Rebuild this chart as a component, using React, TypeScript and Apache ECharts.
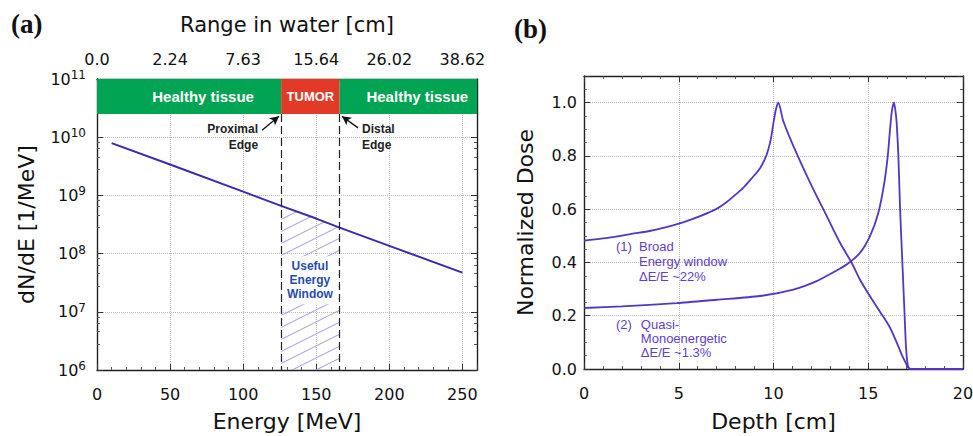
import React, { useEffect, useRef } from 'react';
import * as echarts from 'echarts';

// ---- Panel (a): proton spectrum ----
const energyMeV = [10, 50, 100, 126, 150, 166, 200, 250];
const dNdE = [7.9e9, 3.4e9, 1.16e9, 6.6e8, 4.0e8, 2.8e8, 1.36e8, 4.7e7];
const energyTicks = [0, 50, 100, 150, 200, 250];
const rangeLabels = ['0.0', '2.24', '7.63', '15.64', '26.02', '38.62'];
const tumorStart = 126;
const tumorEnd = 166;
const bandBottom = 2.5e10;

// ---- Panel (b): depth dose curves ----
const depthBroad = [0, 1, 1.76, 2.5, 3.52, 4.3, 5.05, 5.6, 6.16, 6.6, 7.04, 7.5, 7.92, 8.4, 8.8, 9.3, 9.64, 9.85, 10.0, 10.13, 10.25, 10.52, 11.05, 11.93, 12.81, 13.51, 14.13, 14.56, 15.09, 15.62, 16.15, 16.5, 16.76, 17.0, 17.1, 17.25, 18, 19, 20];
const doseBroad = [0.482, 0.49, 0.498, 0.507, 0.519, 0.532, 0.547, 0.56, 0.575, 0.588, 0.603, 0.625, 0.65, 0.68, 0.712, 0.755, 0.805, 0.86, 0.925, 0.975, 1.0, 0.93, 0.837, 0.70, 0.574, 0.474, 0.398, 0.336, 0.273, 0.215, 0.155, 0.10, 0.055, 0.02, 0.006, 0, 0, 0, 0];
const depthMono = [0, 2, 4.89, 7, 9.29, 11.05, 12.28, 13.16, 13.86, 14.56, 15.09, 15.53, 15.85, 16.03, 16.15, 16.25, 16.36, 16.45, 16.5, 16.59, 16.68, 16.8, 16.92, 17.0, 17.1, 17.23, 18, 20];
const doseMono = [0.229, 0.235, 0.2475, 0.26, 0.274, 0.298, 0.33, 0.363, 0.392, 0.436, 0.499, 0.586, 0.70, 0.80, 0.90, 0.97, 1.0, 0.96, 0.924, 0.8, 0.6, 0.4, 0.2, 0.073, 0.01, 0, 0, 0];

const AX_FONT = 'DejaVu Sans';
const ARIAL = 'Liberation Sans';
const LEFT_LINE = '#3a2aae';
const RIGHT_LINE = '#5536c2';
const NOTE = '#5f40c8';

function makeHatch(): HTMLCanvasElement {
  const c = document.createElement('canvas');
  c.width = 24;
  c.height = 12;
  const ctx = c.getContext('2d')!;
  ctx.strokeStyle = '#a494e4';
  ctx.lineWidth = 1;
  for (const k of [-1, 0, 1]) {
    ctx.beginPath();
    ctx.moveTo(-2, 12 + 1 + k * 12);
    ctx.lineTo(26, 12 - 13 + k * 12);
    ctx.stroke();
  }
  return c;
}

export default function App() {
  const ref = useRef<HTMLDivElement>(null);
  useEffect(() => {
    if (!ref.current) return;
    const chart = echarts.init(ref.current, null, { renderer: 'svg' });
    const spectrum = energyMeV.map((e, i) => [e, dNdE[i]]);
    const hatchData = spectrum.filter((p) => p[0] >= tumorStart && p[0] <= tumorEnd);
    const broad = depthBroad.map((d, i) => [d, doseBroad[i]]);
    const mono = depthMono.map((d, i) => [d, doseMono[i]]);

    const frameLine = { show: true, onZero: false, lineStyle: { color: '#222', width: 1.4 } };
    const split = { show: true, lineStyle: { color: '#b8b8b8', type: 'dotted' as const, width: 1 } };
    const tick = { show: true, inside: true, length: 6, lineStyle: { color: '#333' } };
    const minor = { show: true, length: 3, lineStyle: { color: '#555' } };
    const tickLabel = { fontFamily: AX_FONT, fontSize: 16, color: '#111' };
    const nameStyle = { fontFamily: AX_FONT, fontSize: 22, color: '#111' };

    const option: any = {
      animation: false,
      backgroundColor: '#fff',
      graphic: [
        { type: 'text', left: 11, top: 10, style: { text: '(a)', font: 'bold 27px "Liberation Serif"', fill: '#111' } },
        { type: 'text', left: 514, top: 15, style: { text: '(b)', font: 'bold 27px "Liberation Serif"', fill: '#111' } },
      ],
      grid: [
        { left: 97, top: 79, width: 380, height: 291, containLabel: false, outerBoundsMode: 'none' },
        { left: 584, top: 76, width: 379, height: 293, containLabel: false, outerBoundsMode: 'none' },
      ],
      xAxis: [
        {
          gridIndex: 0, type: 'value', position: 'bottom', min: 0, max: 260, interval: 50,
          axisLine: frameLine, axisTick: tick, minorTick: { ...minor, splitNumber: 5 },
          splitLine: split,
          axisLabel: { ...tickLabel, margin: 16, showMaxLabel: false },
          name: 'Energy [MeV]', nameLocation: 'middle', nameGap: 40, nameTextStyle: nameStyle,
        },
        {
          gridIndex: 0, type: 'value', position: 'top', min: 0, max: 260, interval: 50,
          axisLine: frameLine, axisTick: tick, minorTick: { ...minor, splitNumber: 5 },
          splitLine: { show: false },
          axisLabel: {
            ...tickLabel, margin: 12, showMaxLabel: false,
            formatter: (v: number) => {
              const i = energyTicks.indexOf(v);
              return i >= 0 ? rangeLabels[i] : '';
            },
          },
          name: 'Range in water [cm]', nameLocation: 'middle', nameGap: 44,
          nameTextStyle: { ...nameStyle, fontSize: 21 },
        },
        {
          gridIndex: 1, type: 'value', position: 'bottom', min: 0, max: 20, interval: 5,
          axisLine: frameLine, axisTick: tick, minorTick: { ...minor, splitNumber: 5 },
          splitLine: split,
          axisLabel: { ...tickLabel, margin: 16 },
          name: 'Depth [cm]', nameLocation: 'middle', nameGap: 41, nameTextStyle: nameStyle,
        },
        {
          gridIndex: 1, type: 'value', position: 'top', min: 0, max: 20, interval: 5,
          axisLine: frameLine, axisTick: tick, minorTick: { ...minor, splitNumber: 5 },
          splitLine: { show: false }, axisLabel: { show: false },
        },
      ],
      yAxis: [
        {
          gridIndex: 0, type: 'log', logBase: 10, min: 1e6, max: 1e11, position: 'left',
          axisLine: frameLine, axisTick: tick, minorTick: { ...minor, splitNumber: 5 },
          splitLine: split,
          axisLabel: {
            margin: 11,
            formatter: (v: number) => '{b|10}{s|' + Math.round(Math.log10(v)) + '}',
            rich: {
              b: { fontFamily: AX_FONT, fontSize: 16, color: '#111', lineHeight: 20 },
              s: { fontFamily: AX_FONT, fontSize: 12, color: '#111', lineHeight: 12, verticalAlign: 'top' },
            },
          },
          name: 'dN/dE [1/MeV]', nameLocation: 'middle', nameGap: 60, nameTextStyle: nameStyle,
        },
        {
          gridIndex: 0, type: 'log', logBase: 10, min: 1e6, max: 1e11, position: 'right',
          axisLine: frameLine, axisTick: tick, minorTick: { ...minor, splitNumber: 5 },
          splitLine: { show: false }, axisLabel: { show: false },
        },
        {
          gridIndex: 1, type: 'value', min: 0, max: 1.1, interval: 0.2, position: 'left',
          axisLine: frameLine, axisTick: tick, minorTick: { ...minor, splitNumber: 4 },
          splitLine: split,
          axisLabel: { ...tickLabel, margin: 7, showMaxLabel: false, formatter: (v: number) => v.toFixed(1) },
          name: 'Normalized Dose', nameLocation: 'middle', nameGap: 48, nameTextStyle: nameStyle,
        },
        {
          gridIndex: 1, type: 'value', min: 0, max: 1.1, interval: 0.2, position: 'right',
          axisLine: frameLine, axisTick: tick, minorTick: { ...minor, splitNumber: 4 },
          splitLine: { show: false }, axisLabel: { show: false },
        },
      ],
      series: [
        {
          type: 'line', xAxisIndex: 0, yAxisIndex: 0, data: hatchData, symbol: 'none',
          lineStyle: { width: 0 },
          areaStyle: { origin: 'start', color: { image: makeHatch(), repeat: 'repeat', imageWidth: 24, imageHeight: 12 }, opacity: 1 },
          markPoint: {
            symbol: 'circle', symbolSize: 0, silent: true,
            data: [
              {
                coord: [145.7, 3.5e7],
                label: {
                  show: true, position: 'inside', formatter: 'Useful\nEnergy\nWindow',
                  fontFamily: ARIAL, fontWeight: 'bold', fontSize: 12, lineHeight: 14,
                  color: '#1f4db3', backgroundColor: '#fff', padding: [3, 5], align: 'center',
                },
              },
            ],
          },
          z: 2,
        },
        {
          type: 'line', xAxisIndex: 0, yAxisIndex: 0, data: spectrum, symbol: 'none',
          lineStyle: { color: LEFT_LINE, width: 2 }, itemStyle: { color: LEFT_LINE },
          z: 4,
          markArea: {
            silent: true,
            label: { show: true, position: 'inside', color: '#fff', fontFamily: ARIAL, fontWeight: 'bold', fontSize: 15 },
            data: [
              [
                { xAxis: 0, yAxis: bandBottom, itemStyle: { color: '#00a452' }, label: { formatter: 'Healthy tissue', offset: [14, 0] } },
                { xAxis: tumorStart, yAxis: 1e11 },
              ],
              [
                { xAxis: tumorStart, yAxis: bandBottom, itemStyle: { color: '#e23a26' }, label: { formatter: 'TUMOR', fontSize: 13 } },
                { xAxis: tumorEnd, yAxis: 1e11 },
              ],
              [
                { xAxis: tumorEnd, yAxis: bandBottom, itemStyle: { color: '#00a452' }, label: { formatter: 'Healthy tissue', offset: [9, 0] } },
                { xAxis: 260, yAxis: 1e11 },
              ],
            ],
          },
          markLine: {
            silent: true, symbol: ['none', 'none'], label: { show: false },
            lineStyle: { color: '#222', type: [8, 4], width: 1.2 },
            z: 6,
            data: [
              [{ coord: [tumorStart, bandBottom] }, { coord: [tumorStart, 1e6] }],
              [{ coord: [tumorEnd, bandBottom] }, { coord: [tumorEnd, 1e6] }],
              [
                { coord: [112.9, 1.32e10], symbol: 'none', lineStyle: { type: 'solid', width: 1.4, color: '#111' } },
                { coord: [124.5, 2.29e10], symbol: 'arrow', symbolSize: [7, 9] },
              ],
              [
                { coord: [178.6, 1.45e10], symbol: 'none', lineStyle: { type: 'solid', width: 1.4, color: '#111' } },
                { coord: [167.6, 2.29e10], symbol: 'arrow', symbolSize: [7, 9] },
              ],
            ],
          },
          markPoint: {
            symbol: 'circle', symbolSize: 0, silent: true,
            label: { show: true, fontFamily: ARIAL, fontWeight: 'bold', fontSize: 12, lineHeight: 16, color: '#222' },
            data: [
              { coord: [110.2, 1.0e10], label: { position: 'inside', align: 'right', formatter: 'Proximal\nEdge' } },
              { coord: [181.3, 1.0e10], label: { position: 'inside', align: 'left', formatter: 'Distal\nEdge' } },
            ],
          },
        },
        {
          type: 'line', xAxisIndex: 2, yAxisIndex: 2, data: broad, symbol: 'none', smooth: 0.3,
          lineStyle: { color: RIGHT_LINE, width: 1.8 }, itemStyle: { color: RIGHT_LINE },
          markPoint: {
            symbol: 'circle', symbolSize: 0, silent: true,
            label: { show: true, position: 'inside', align: 'left', fontFamily: ARIAL, fontSize: 13, lineHeight: 15, color: NOTE },
            data: [
              { coord: [1.69, 0.459], label: { formatter: '(1)' } },
              { coord: [2.9, 0.403], label: { formatter: 'Broad\nEnergy window\nΔE/E ~22%' } },
            ],
          },
        },
        {
          type: 'line', xAxisIndex: 2, yAxisIndex: 2, data: mono, symbol: 'none', smooth: 0.25,
          lineStyle: { color: RIGHT_LINE, width: 1.8 }, itemStyle: { color: RIGHT_LINE },
          markPoint: {
            symbol: 'circle', symbolSize: 0, silent: true,
            label: { show: true, position: 'inside', align: 'left', fontFamily: ARIAL, fontSize: 13, lineHeight: 14, color: NOTE },
            data: [
              { coord: [1.69, 0.166], label: { formatter: '(2)' } },
              { coord: [3.0, 0.114], label: { formatter: 'Quasi-\nMonoenergetic\nΔE/E ~1.3%' } },
            ],
          },
        },
      ],
    };
    chart.setOption(option);
    return () => chart.dispose();
  }, []);
  return (
    <div
      ref={ref}
      style={{ position: 'fixed', left: 0, top: 0, width: 973, height: 436, background: '#fff' }}
    />
  );
}
